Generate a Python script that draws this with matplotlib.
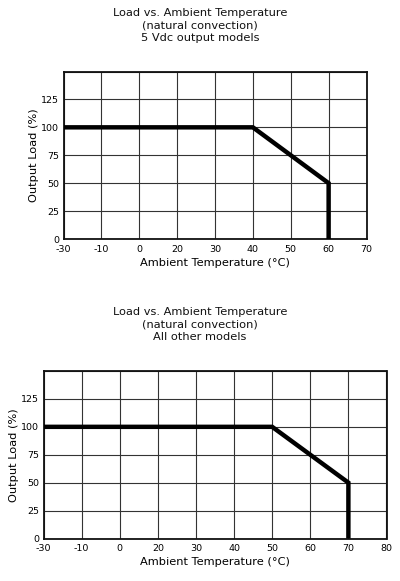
import numpy as np
import matplotlib
matplotlib.use('Agg')
import matplotlib.pyplot as plt

# x tick labels as printed on the original (unevenly labelled, evenly spaced)
top_xlabels = [-30, -10, 0, 20, 30, 40, 50, 60, 70]
bot_xlabels = [-30, -10, 0, 20, 30, 40, 50, 60, 70, 80]
y_ticks = [0, 25, 50, 75, 100, 125]

# derating curves (temperature in degC, load in %)
top_temp = [-30, 40, 60, 60]
top_load = [100, 100, 50, 0]
bot_temp = [-30, 50, 70, 70]
bot_load = [100, 100, 50, 0]

top_title = "Load vs. Ambient Temperature\n(natural convection)\n5 Vdc output models"
bot_title = "Load vs. Ambient Temperature\n(natural convection)\nAll other models"

plt.rcParams['font.family'] = ['DejaVu Sans']
W, H = 400, 581
fig = plt.figure(figsize=(W / 100, H / 100), dpi=100)


def draw_panel(rect, xlabels, temps, loads, title, title_y):
    ax = fig.add_axes(rect)
    idx = np.arange(len(xlabels))
    # map temperatures onto the evenly spaced label positions
    xs = np.interp(temps, xlabels, idx)
    ax.plot(xs, loads, color='black', lw=3.2, solid_capstyle='butt',
            solid_joinstyle='miter', zorder=3)
    ax.set_xlim(0, len(xlabels) - 1)
    ax.set_ylim(0, 150)
    ax.set_xticks(idx, [str(v) for v in xlabels])
    ax.set_yticks(np.arange(0, 151, 25))
    ax.set_yticklabels([str(v) for v in y_ticks] + [''])
    ax.grid(True, color='#333333', lw=0.8)
    ax.set_axisbelow(True)
    ax.tick_params(length=0, labelsize=6.8)
    ax.tick_params(axis='x', pad=4)
    ax.tick_params(axis='y', pad=3)
    for s in ax.spines.values():
        s.set_linewidth(1.3)
        s.set_color('#111111')
    ax.set_xlabel("Ambient Temperature (°C)", fontsize=8.2, labelpad=3)
    ax.set_ylabel("Output Load (%)", fontsize=8.2, labelpad=2)
    fig.text(0.5, title_y, title, ha='center', va='top', fontsize=8.2,
             linespacing=1.3, color='#111111')
    return ax


def frac(left, right, top, bottom):
    return [left / W, 1 - bottom / H, (right - left) / W, (bottom - top) / H]


draw_panel(frac(63.5, 366.5, 71.5, 239), top_xlabels, top_temp, top_load,
           top_title, 1 - 8 / H)
draw_panel(frac(43.5, 386.5, 371, 538.5), bot_xlabels, bot_temp, bot_load,
           bot_title, 1 - 307 / H)

fig.savefig('out.png', dpi=100)
